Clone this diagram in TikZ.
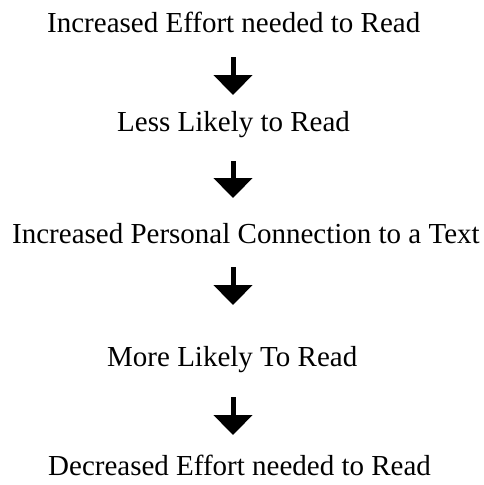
\documentclass[tikz,border=0pt]{standalone}
\usepackage{fontspec}
\setmainfont{Liberation Serif}
\usetikzlibrary{arrows.meta}
\begin{document}
\begin{tikzpicture}[x=1pt,y=-1pt,
  lbl/.style={anchor=base west,inner sep=0pt,font=\fontsize{29}{34}\selectfont},
  arr/.style={line width=5pt,-{Triangle[length=20pt,width=38pt]}}]
\useasboundingbox (0,0) rectangle (483,485);
\node[lbl] (l1) at (47,32) {Increased Effort needed to Read};
\node[lbl] (l2) at (117,131) {Less Likely to Read};
\node[lbl] (l3) at (12,243) {Increased Personal Connection to a Text};
\node[lbl] (l4) at (107,366) {More Likely To Read};
\node[lbl] (l5) at (48,475) {Decreased Effort needed to Read};
\coordinate (s1) at (233,57);  \coordinate (t1) at (233,95);
\coordinate (s2) at (233,161); \coordinate (t2) at (233,198);
\coordinate (s3) at (233,267); \coordinate (t3) at (233,305);
\coordinate (s4) at (233,397); \coordinate (t4) at (233,435);
\draw[arr] (s1) -- (t1);
\draw[arr] (s2) -- (t2);
\draw[arr] (s3) -- (t3);
\draw[arr] (s4) -- (t4);
\end{tikzpicture}
\end{document}
